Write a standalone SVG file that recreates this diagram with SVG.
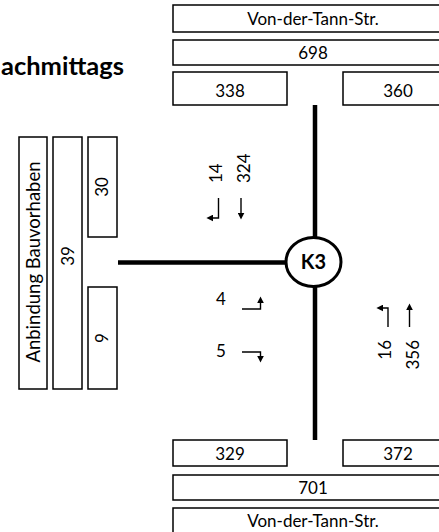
<svg xmlns="http://www.w3.org/2000/svg" width="439" height="532" viewBox="0 0 439 532">
<style>
.box{fill:#fff;stroke:#000;stroke-width:1.5}
.t{font-family:Lato,"Liberation Sans",sans-serif;font-size:17px;fill:#000;text-anchor:middle}
.road{stroke:#000;stroke-width:4.5;fill:none}
.arr{stroke:#000;stroke-width:1.4;fill:none;marker-end:url(#ah)}
</style>
<defs>
<marker id="ah" viewBox="0 0 10 10" refX="2" refY="5" markerWidth="7" markerHeight="7" orient="auto" markerUnits="userSpaceOnUse">
<path d="M0,0 L10,5 L0,10 z" fill="#000"/>
</marker>
</defs>
<rect width="439" height="532" fill="#fff"/>
<text x="1" y="75" font-family="Lato,'Liberation Sans',sans-serif" font-weight="bold" font-size="25.5" text-anchor="start">achmittags</text>
<g id="connectors">
<line class="road" x1="315" y1="105" x2="315" y2="237"/>
<line class="road" x1="315" y1="287" x2="315" y2="440"/>
<line class="road" x1="118" y1="262.5" x2="285" y2="262.5"/>
</g>
<g id="top-street"><rect class="box" x="173" y="5" width="280" height="27"/><text class="t" x="313" y="25">Von-der-Tann-Str.</text></g>
<g id="top-total"><rect class="box" x="173" y="40" width="280" height="25"/><text class="t" x="313" y="58.5">698</text></g>
<g id="top-in"><rect class="box" x="173" y="72" width="114" height="33"/><text class="t" x="230" y="97">338</text></g>
<g id="top-out"><rect class="box" x="343" y="72" width="110" height="33"/><text class="t" x="398" y="97">360</text></g>
<g id="bot-in"><rect class="box" x="173" y="440" width="114" height="26"/><text class="t" x="230" y="460">329</text></g>
<g id="bot-out"><rect class="box" x="343" y="440" width="110" height="26"/><text class="t" x="398" y="460">372</text></g>
<g id="bot-total"><rect class="box" x="173" y="475" width="280" height="25"/><text class="t" x="313" y="494">701</text></g>
<g id="bot-street"><rect class="box" x="173" y="508" width="280" height="30"/><text class="t" x="313" y="527">Von-der-Tann-Str.</text></g>
<g id="left-street"><rect class="box" x="19" y="137" width="28" height="252"/><text class="t" style="font-size:18.5px" transform="translate(39.5,262) rotate(-90)">Anbindung Bauvorhaben</text></g>
<g id="left-total"><rect class="box" x="53" y="137" width="29" height="252"/><text class="t" transform="translate(74,256) rotate(-90)">39</text></g>
<g id="left-out"><rect class="box" x="88" y="137" width="29" height="100"/><text class="t" transform="translate(108,187) rotate(-90)">30</text></g>
<g id="left-in"><rect class="box" x="88" y="287" width="29" height="102"/><text class="t" transform="translate(108,338) rotate(-90)">9</text></g>
<g id="K3"><ellipse cx="313.5" cy="262" rx="27.5" ry="24.5" fill="#fff" stroke="#000" stroke-width="3"/><text x="313.5" y="269" font-family="Lato,'Liberation Sans',sans-serif" font-weight="bold" font-size="20" text-anchor="middle">K3</text></g>
<g id="flows-north">
<text class="t" style="text-anchor:start" transform="translate(222,183) rotate(-90)">14</text>
<text class="t" style="text-anchor:start" transform="translate(250,183) rotate(-90)">324</text>
<path class="arr" d="M218.5,198 V218 H212"/>
<path class="arr" d="M241,198 V214"/>
</g>
<g id="flows-west">
<text class="t" x="221" y="305">4</text>
<text class="t" x="221" y="357">5</text>
<path class="arr" d="M242,309 H260.5 V302"/>
<path class="arr" d="M242,352 H260.5 V357"/>
</g>
<g id="flows-south">
<text class="t" style="text-anchor:end" transform="translate(391,340) rotate(-90)">16</text>
<text class="t" style="text-anchor:end" transform="translate(419,340) rotate(-90)">356</text>
<path class="arr" d="M388,327 V308 H382"/>
<path class="arr" d="M409.5,327 V309"/>
</g>
</svg>
